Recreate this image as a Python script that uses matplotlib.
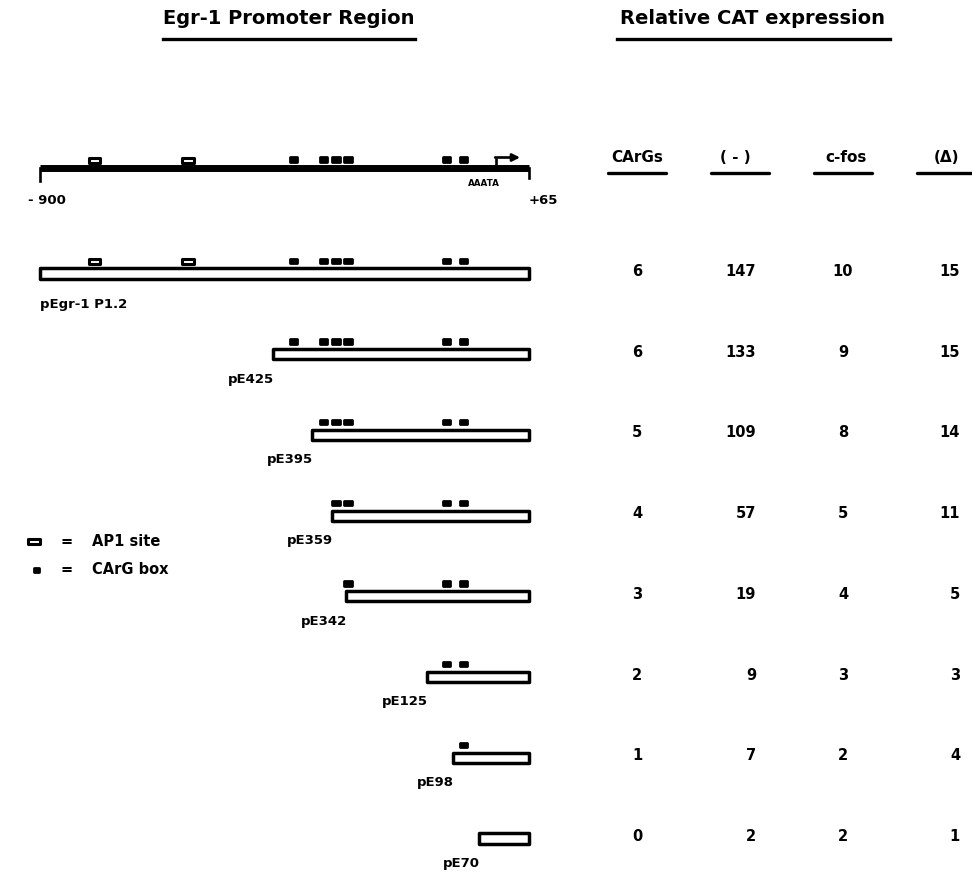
import matplotlib
matplotlib.use("Agg")
import matplotlib.pyplot as plt
from matplotlib.patches import Rectangle
from matplotlib.lines import Line2D

# ---------------- data ----------------
constructs = ["pEgr-1 P1.2", "pE425", "pE395", "pE359", "pE342", "pE125", "pE98", "pE70"]
start_pos = [-900, -440, -363, -324, -296, -136, -85, -34]   # schematic 5' ends on the -900..+65 map
end_pos = 65
carg_pos = [-400, -340, -316, -292, -98, -64]                # CArG boxes
ap1_pos = [-792, -608]                                       # AP1 sites
tss_pos = 0
tata_pos = -24
carg_counts = [6, 6, 5, 4, 3, 2, 1, 0]
cat_minus = [147, 133, 109, 57, 19, 9, 7, 2]
cat_cfos = [10, 9, 8, 5, 4, 3, 2, 2]
cat_delta = [15, 15, 14, 11, 5, 3, 4, 1]
col_headers = ["CArGs", "( - )", "c-fos", "(\u0394)"]

# ---------------- layout ----------------
W, H = 972, 873
fig = plt.figure(figsize=(W / 100, H / 100), dpi=100)
fig.patch.set_facecolor("white")
plt.rcParams['font.family'] = ['DejaVu Sans']

ROW0, ROWH = 273.5, 80.7          # pixel y of first construct, row spacing
ylim = ((H - ROW0) / ROWH, -ROW0 / ROWH)
PXBP = 489 / 965.0                 # pixels per map unit

ax = fig.add_axes([40 / W, 0, 489 / W, 1])
ax.set_xlim(-900, 65)
ax.set_ylim(*ylim)
ax.axis("off")

axt = fig.add_axes([637 / W, 0, 309 / W, 1])
axt.set_xlim(0, 3)
axt.set_ylim(*ylim)
axt.axis("off")

def r(px):  # pixel offset -> row units
    return px / ROWH

def b(px):  # pixel width -> map units
    return px / PXBP

LINE_R = (168 - ROW0) / ROWH
bar_hh = r(5.1)
carg_w, carg_h = b(3.7), r(2.2)
ap1_w, ap1_h = b(5.6), r(2.5)


def carg(x, y, w=None):
    w = carg_w if w is None else w
    ax.add_patch(Rectangle((x - w, y - carg_h), 2 * w, 2 * carg_h,
                           fc="k", ec="k", lw=2.0, joinstyle="round", clip_on=False))


def ap1(x, y):
    ax.add_patch(Rectangle((x - ap1_w, y - ap1_h), 2 * ap1_w, 2 * ap1_h,
                           fc="white", ec="k", lw=2.2, joinstyle="round", clip_on=False))


# ---------------- promoter map line ----------------
ax.plot([-900, end_pos], [LINE_R, LINE_R], color="k", lw=5.0, solid_capstyle="butt", clip_on=False)
ax.plot([-900, -900], [LINE_R, LINE_R + r(13)], color="k", lw=1.9, clip_on=False)
ax.plot([end_pos, end_pos], [LINE_R, LINE_R + r(10)], color="k", lw=1.9, clip_on=False)
arrow_top = LINE_R - r(10.5)
ax.plot([tss_pos, tss_pos], [LINE_R, arrow_top], color="k", lw=1.9, solid_capstyle="butt", clip_on=False)
ax.annotate("", xy=(tss_pos + b(24), arrow_top), xytext=(tss_pos - b(0.9), arrow_top),
            arrowprops=dict(arrowstyle="-|>", lw=1.9, color="k", mutation_scale=11,
                            shrinkA=0, shrinkB=0), annotation_clip=False)
for c in carg_pos:
    carg(c, LINE_R - r(8.5))
for a in ap1_pos:
    ap1(a, LINE_R - r(7.5))
ax.text(tata_pos, LINE_R + r(15), "AAATA", fontsize=6.3, fontweight="bold",
        ha="center", va="center")
ax.annotate("- 900", xy=(-900, LINE_R), xytext=(7, -32), textcoords="offset pixels",
            fontsize=9.5, fontweight="bold", ha="center", va="center", annotation_clip=False)
ax.annotate("+65", xy=(end_pos, LINE_R), xytext=(14, -32), textcoords="offset pixels",
            fontsize=9.5, fontweight="bold", ha="center", va="center", annotation_clip=False)

# ---------------- constructs ----------------
for i, (name, s) in enumerate(zip(constructs, start_pos)):
    ax.add_patch(Rectangle((s, i - bar_hh), end_pos - s, 2 * bar_hh, fc="white", ec="k",
                           lw=2.5, joinstyle="round", clip_on=False))
    for c in carg_pos:
        if c >= s:
            carg(c, i - r(12.8))
    for a in ap1_pos:
        if a >= s:
            ap1(a, i - r(12.5))
    if i == 0:
        ax.annotate(name, xy=(s, i), xytext=(0, -31), textcoords="offset pixels",
                    fontsize=9.5, fontweight="bold", ha="left", va="center", annotation_clip=False)
    else:
        ax.annotate(name, xy=(s, i), xytext=(1, -25), textcoords="offset pixels",
                    fontsize=9.5, fontweight="bold", ha="right", va="center", annotation_clip=False)

# ---------------- table ----------------
HDR_R = (157 - ROW0) / ROWH
UL_R = (173 - ROW0) / ROWH
hdr_x = [0.0, 0.95, 2.03, 3.0]
for j, (h, hx) in enumerate(zip(col_headers, hdr_x)):
    axt.text(hx, HDR_R, h, fontsize=11, fontweight="bold", ha="center", va="center")
    axt.plot([j - 0.277, j + 0.277], [UL_R, UL_R], color="k", lw=2.4,
             solid_capstyle="round", clip_on=False)

for i in range(len(constructs)):
    y = i - r(2)
    axt.text(0, y, str(carg_counts[i]), fontsize=10.5, fontweight="bold", ha="center", va="center")
    axt.text(1.155, y, str(cat_minus[i]), fontsize=10.5, fontweight="bold", ha="right", va="center")
    axt.text(2.0, y, str(cat_cfos[i]), fontsize=10.5, fontweight="bold", ha="center", va="center")
    axt.text(3.136, y, str(cat_delta[i]), fontsize=10.5, fontweight="bold", ha="right", va="center")

# ---------------- titles ----------------
fig.text(288.5 / W, 1 - 18 / H, "Egr-1 Promoter Region", fontsize=14, fontweight="bold",
         ha="center", va="center")
fig.add_artist(Line2D([163 / W, 415 / W], [1 - 39 / H] * 2, color="k", lw=2.4))
fig.text(752.5 / W, 1 - 18 / H, "Relative CAT expression", fontsize=14, fontweight="bold",
         ha="center", va="center")
fig.add_artist(Line2D([617 / W, 890 / W], [1 - 39 / H] * 2, color="k", lw=2.4))

# ---------------- legend ----------------
inv = ax.transData.inverted()
def px2d(x, y):
    return inv.transform((x, H - y))

lx, ly = px2d(34, 541)
ap1(lx, ly)
lx, ly = px2d(36.5, 570)
carg(lx, ly, w=b(2.6))
for yy, txt in [(541, "AP1 site"), (570, "CArG box")]:
    fig.text(67 / W, 1 - yy / H, "=", fontsize=10.5, fontweight="bold", ha="center", va="center")
    fig.text(92 / W, 1 - yy / H, txt, fontsize=10.5, fontweight="bold", ha="left", va="center")

fig.savefig("out.png", dpi=100, facecolor="white")
